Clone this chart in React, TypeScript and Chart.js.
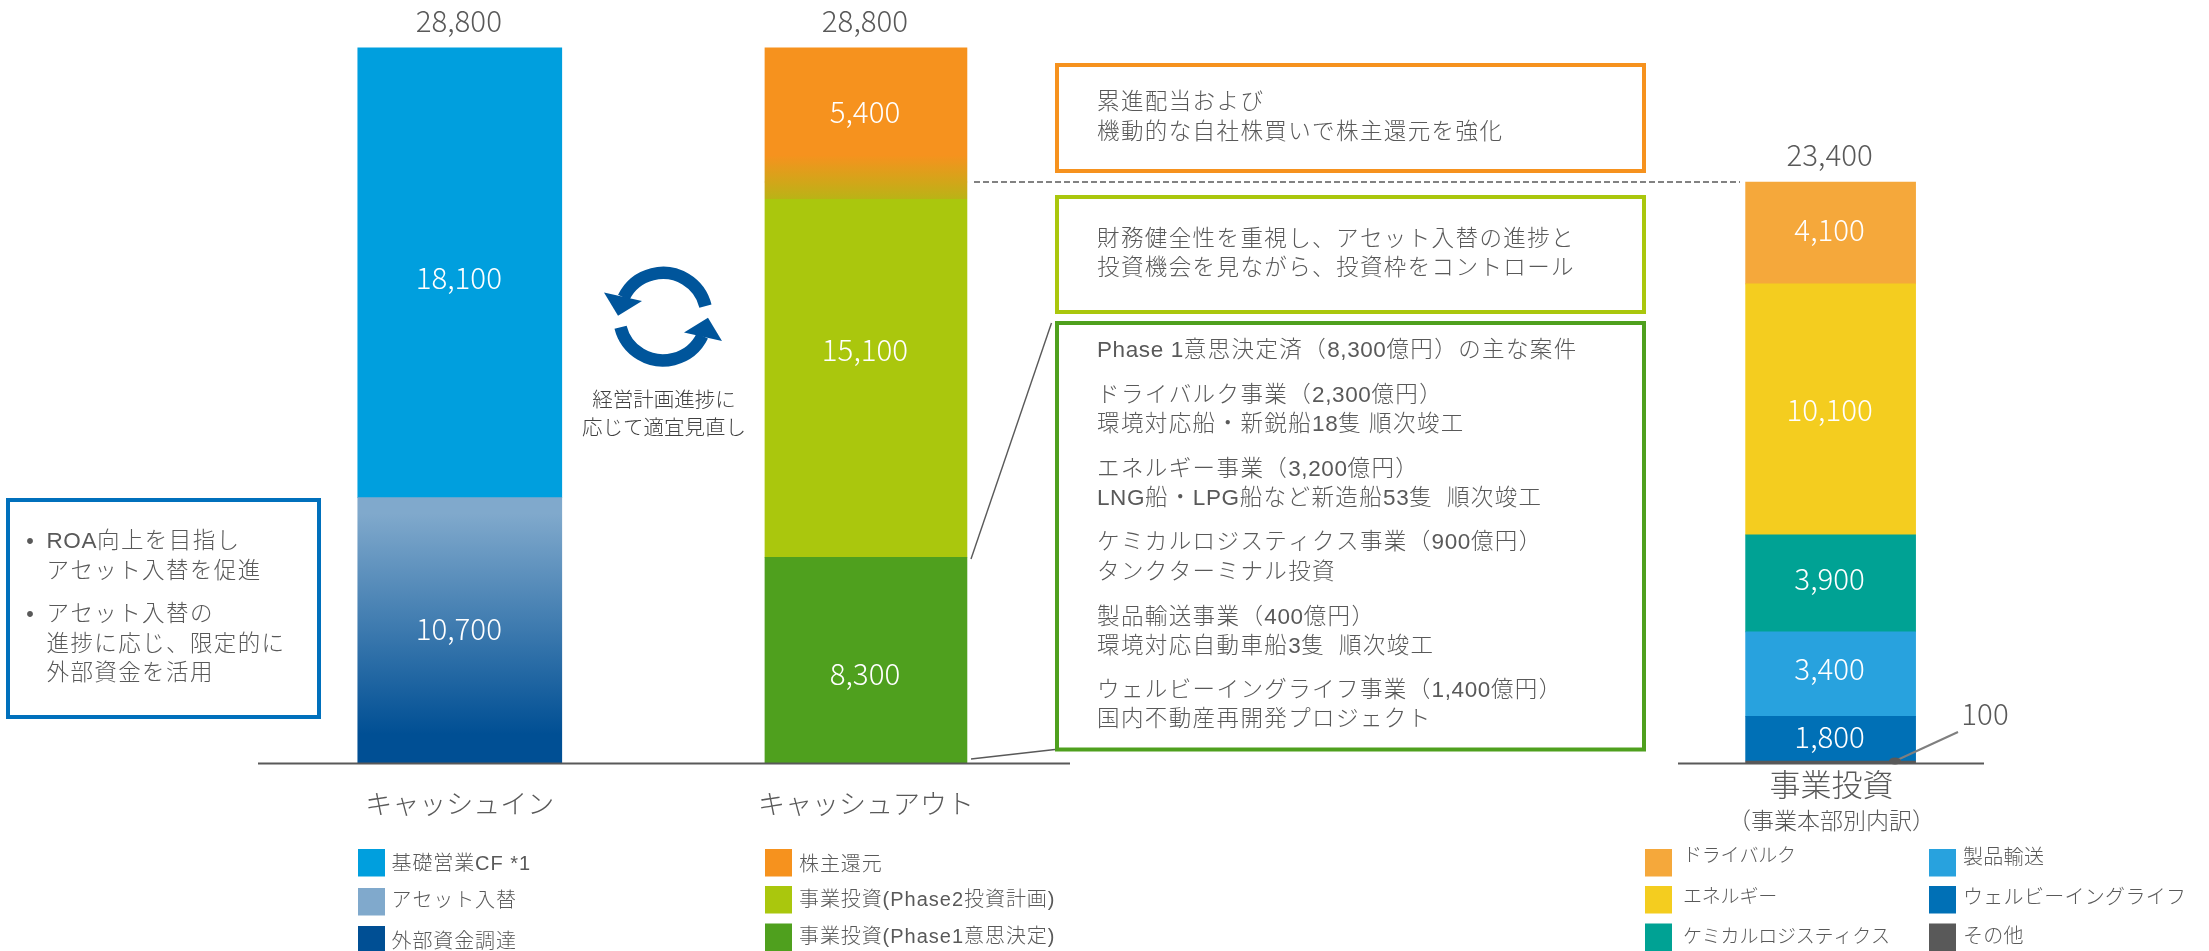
import React, { useEffect, useRef } from "react";
import { Chart, registerables } from "chart.js";

Chart.register(...registerables);

// Chart values, in 億円
const slotCount = 28;
const cashInSlot = 0;
const cashOutSlot = 8;
const businessSlot = 27;

const categoryIn = "キャッシュイン";
const categoryOut = "キャッシュアウト";
const categoryBusiness = "事業投資";
const categoryBusinessNote = "（事業本部別内訳）";

const cashInValues = [10700, 18100];
const cashOutValues = [8300, 15100, 5400];
const businessValues = [100, 1800, 3400, 3900, 10100, 4100];

const cashInLegend = ["基礎営業CF *1", "アセット入替", "外部資金調達"];
const cashOutLegend = ["株主還元", "事業投資(Phase2投資計画)", "事業投資(Phase1意思決定)"];
const businessLegendLeft = ["ドライバルク", "エネルギー", "ケミカルロジスティクス"];
const businessLegendRight = ["製品輸送", "ウェルビーイングライフ", "その他"];

const shareholderNote = ["累進配当および", "機動的な自社株買いで株主還元を強化"];
const controlNote = ["財務健全性を重視し、アセット入替の進捗と", "投資機会を見ながら、投資枠をコントロール"];
const phaseOneNote = [
  "Phase 1意思決定済（8,300億円）の主な案件",
  "ドライバルク事業（2,300億円）",
  "環境対応船・新鋭船18隻 順次竣工",
  "エネルギー事業（3,200億円）",
  "LNG船・LPG船など新造船53隻  順次竣工",
  "ケミカルロジスティクス事業（900億円）",
  "タンクターミナル投資",
  "製品輸送事業（400億円）",
  "環境対応自動車船3隻  順次竣工",
  "ウェルビーイングライフ事業（1,400億円）",
  "国内不動産再開発プロジェクト",
];
const assetNote = ["ROA向上を目指し", "アセット入替を促進", "アセット入替の", "進捗に応じ、限定的に", "外部資金を活用"];
const cycleNote = ["経営計画進捗に", "応じて適宜見直し"];

const FONT = '"Liberation Sans", "Noto Sans CJK JP", sans-serif';
const NUM_FONT = '"Noto Sans CJK JP", sans-serif';
const GREY = "#595959";

const C = {
  cf: "#009FDE",
  asset: "#80A9CC",
  external: "#004F94",
  orange: "#F6921E",
  lime: "#AAC70D",
  green: "#4FA01E",
  bulk: "#F5A83B",
  energy: "#F4CD1F",
  chem: "#00A294",
  product: "#28A2DE",
  wellbeing: "#0070B6",
  other: "#595959",
  blend: "#BAB316",
  blendMid: "#D2A619",
};

const labels = Array.from({ length: slotCount }, (_, i) =>
  i === cashInSlot ? categoryIn : i === cashOutSlot ? categoryOut : i === businessSlot ? categoryBusiness : ""
);

const at = (slot: number, v: number) => {
  const row: (number | null)[] = new Array(slotCount).fill(null);
  row[slot] = v;
  return row;
};

type Opts = {
  size?: number;
  color?: string;
  align?: CanvasTextAlign;
  spacing?: number;
  latinSpacing?: number;
  weight?: number;
  family?: string;
};

// Draws one line of text; Latin runs and Japanese runs take separate tracking
function put(ctx: CanvasRenderingContext2D, s: string, x: number, y: number, o: Opts = {}) {
  ctx.save();
  ctx.font = `${o.weight ?? 300} ${o.size ?? 22}px ${o.family ?? FONT}`;
  ctx.fillStyle = o.color ?? GREY;
  ctx.textAlign = o.align ?? "left";
  ctx.textBaseline = "middle";
  if ((o.align ?? "left") === "left") {
    let cx = x;
    for (const run of s.match(/[\x20-\x7e]+|[^\x20-\x7e]+/g) ?? []) {
      const latin = /^[\x20-\x7e]/.test(run);
      (ctx as any).letterSpacing = `${latin ? o.latinSpacing ?? 0 : o.spacing ?? 0}px`;
      ctx.fillText(run, cx, y);
      cx += ctx.measureText(run).width;
    }
  } else {
    (ctx as any).letterSpacing = `${o.spacing ?? 0}px`;
    ctx.fillText(s, x, y);
  }
  ctx.restore();
}

function frame(ctx: CanvasRenderingContext2D, x0: number, y0: number, x1: number, y1: number, color: string) {
  ctx.save();
  ctx.strokeStyle = color;
  ctx.lineWidth = 4;
  ctx.strokeRect(x0, y0, x1 - x0, y1 - y0);
  ctx.restore();
}

function seg(ctx: CanvasRenderingContext2D, x0: number, y0: number, x1: number, y1: number, color: string, w: number, dash: number[] = []) {
  ctx.save();
  ctx.strokeStyle = color;
  ctx.lineWidth = w;
  ctx.setLineDash(dash);
  ctx.beginPath();
  ctx.moveTo(x0, y0);
  ctx.lineTo(x1, y1);
  ctx.stroke();
  ctx.restore();
}

// Two chasing arrows between the first two columns
function cycleIcon(ctx: CanvasRenderingContext2D, cx: number, cy: number) {
  const half = () => {
    ctx.strokeStyle = "#00559B";
    ctx.fillStyle = "#00559B";
    ctx.lineWidth = 12.5;
    ctx.beginPath();
    ctx.arc(0, 0, 43.75, (-14 * Math.PI) / 180, (-154 * Math.PI) / 180, true);
    ctx.stroke();
    ctx.beginPath();
    ctx.moveTo(-59, -24.3);
    ctx.lineTo(-21, -15.7);
    ctx.lineTo(-45, -1);
    ctx.closePath();
    ctx.fill();
  };
  ctx.save();
  ctx.translate(cx, cy);
  half();
  ctx.rotate(Math.PI);
  half();
  ctx.restore();
}

function legendGroup(
  ctx: CanvasRenderingContext2D,
  items: string[],
  colors: string[],
  x: number,
  swatchTops: number[],
  textX: number,
  textYs: number[],
  textOpts: Opts
) {
  items.forEach((t, i) => {
    ctx.fillStyle = colors[i];
    ctx.fillRect(x, swatchTops[i], 27, 27.5);
    put(ctx, t, textX, textYs[i], textOpts);
  });
}

const annotations = {
  id: "annotations",
  afterDraw(chart: any) {
    const ctx: CanvasRenderingContext2D = chart.ctx;
    const y = chart.scales.y;
    const x = chart.scales.x;
    const base = y.getPixelForValue(0);

    // Baselines under each group of columns
    seg(ctx, 258, base, 1070, base, GREY, 2);
    seg(ctx, 1678, base, 1984, base, GREY, 2);

    // Segment values, drawn at the middle of every bar
    chart.data.datasets.forEach((ds: any, i: number) => {
      if (ds.hideValue) return;
      chart.getDatasetMeta(i).data.forEach((el: any, k: number) => {
        const v = ds.data[k];
        if (v == null) return;
        put(ctx, v.toLocaleString("en-US"), el.x - 1, (el.y + el.base) / 2 + (ds.labelShift ?? 0), {
          size: 29.5,
          color: "#FFFFFF",
          align: "center",
          family: NUM_FONT,
        });
      });
    });

    // Column totals
    const sum = (a: number[]) => a.reduce((p, c) => p + c, 0);
    [
      [cashInSlot, sum(cashInValues)],
      [cashOutSlot, sum(cashOutValues)],
      [businessSlot, sum(businessValues)],
    ].forEach(([slot, total]) => {
      put(ctx, total.toLocaleString("en-US"), x.getPixelForValue(slot) - 1, y.getPixelForValue(total) - 27.5, {
        size: 29.5,
        align: "center",
        family: NUM_FONT,
      });
    });

    // Callout for the sliver at the bottom of the business column
    seg(ctx, 1958, 732, 1895, 761, "#7F7F7F", 2);
    ctx.fillStyle = GREY;
    ctx.beginPath();
    ctx.ellipse(1895, 761, 6, 3.5, 0, 0, Math.PI * 2);
    ctx.fill();
    put(ctx, businessValues[0].toLocaleString("en-US"), 1985, 714, { size: 29.5, align: "center", family: NUM_FONT });

    // Links between the columns and the text boxes
    seg(ctx, 974, 182, 1740, 182, GREY, 1.6, [6, 3]);
    seg(ctx, 971, 559, 1051.5, 323, GREY, 1.4);
    seg(ctx, 971, 759, 1055, 749.5, GREY, 1.4);

    // Text boxes
    const textOpts: Opts = { size: 22.5, spacing: 1.4, latinSpacing: 0.6 };
    frame(ctx, 1057, 65, 1644, 171, C.orange);
    shareholderNote.forEach((t, i) => put(ctx, t, 1097, [103, 132.5][i], textOpts));
    frame(ctx, 1057, 197, 1644, 312, C.lime);
    controlNote.forEach((t, i) => put(ctx, t, 1097, [240, 269][i], textOpts));
    frame(ctx, 1057, 323, 1644, 749.5, C.green);
    const phaseY = [351, 396, 425, 470, 498.5, 543, 572.6, 617.6, 647, 690.6, 720];
    phaseOneNote.forEach((t, i) => put(ctx, t, 1097, phaseY[i], textOpts));

    frame(ctx, 8, 500, 319, 717, "#0070BC");
    const assetY = [542, 571.5, 615, 645, 673.5];
    assetNote.forEach((t, i) => put(ctx, t, 46.5, assetY[i], textOpts));
    put(ctx, "•", 30, 542, { size: 21.5, align: "center" });
    put(ctx, "•", 30, 615, { size: 21.5, align: "center" });

    cycleIcon(ctx, 663, 316.7);
    cycleNote.forEach((t, i) => put(ctx, t, 664, [401, 429][i], { size: 20.5, align: "center", color: "#404040" }));

    // Heading of the business column, set closer to the baseline than the axis labels
    const bx = x.getPixelForValue(businessSlot) + 1;
    put(ctx, categoryBusiness, bx, 787, { size: 31, align: "center" });
    put(ctx, categoryBusinessNote, bx, 823, { size: 23, align: "center" });

    // Legends
    const tops = [849, 886, 923.5];
    const legendText: Opts = { size: 20, spacing: 0.9, latinSpacing: 1 };
    legendGroup(ctx, cashInLegend, [C.cf, C.asset, C.external], 358, [849, 888, 926], 391.5, [864, 901, 942], legendText);
    legendGroup(ctx, cashOutLegend, [C.orange, C.lime, C.green], 765, tops, 799, [865, 900, 937], legendText);
    legendGroup(ctx, businessLegendLeft, [C.bulk, C.energy, C.chem], 1645, tops, 1683, [857, 898, 938], { size: 19, spacing: -0.2 });
    legendGroup(ctx, businessLegendRight, [C.product, C.wellbeing, C.other], 1929, tops, 1963, [858, 898, 937], { size: 20, spacing: 0.3 });
  },
};

// Vertical gradient helper bound to a segment's value range
function ramp(lo: number, hi: number, stops: [number, string][], fallback: string) {
  return (c: any) => {
    const { chart } = c;
    if (!chart.chartArea) return fallback;
    const y = chart.scales.y;
    const g = chart.ctx.createLinearGradient(0, y.getPixelForValue(hi), 0, y.getPixelForValue(lo));
    stops.forEach(([p, col]) => g.addColorStop(p, col));
    return g;
  };
}

export default function App() {
  const ref = useRef<HTMLCanvasElement>(null);

  useEffect(() => {
    if (!ref.current) return;
    const inTotalLow = cashInValues[0];
    const outLow = cashOutValues[0];
    const outMid = outLow + cashOutValues[1];
    const outTop = outMid + cashOutValues[2];

    const chart = new Chart(ref.current, {
      type: "bar",
      data: {
        labels,
        datasets: [
          {
            label: "アセット入替・外部資金調達",
            data: at(cashInSlot, cashInValues[0]),
            backgroundColor: ramp(0, inTotalLow, [[0.06, C.asset], [0.89, C.external], [1, C.external]], C.asset),
            barThickness: 204,
            labelShift: -2,
          },
          {
            label: "基礎営業CF",
            data: at(cashInSlot, cashInValues[1]),
            backgroundColor: C.cf,
            barThickness: 204,
            labelShift: 5,
          },
          {
            label: "事業投資(Phase1意思決定)",
            data: at(cashOutSlot, cashOutValues[0]),
            backgroundColor: C.green,
            barThickness: 202,
            labelShift: 13,
          },
          {
            label: "事業投資(Phase2投資計画)",
            data: at(cashOutSlot, cashOutValues[1]),
            backgroundColor: ramp(outLow, outMid, [[0, C.blendMid], [0.045, C.blend], [0.045, C.lime], [1, C.lime]], C.lime),
            barThickness: 202,
            labelShift: -20,
          },
          {
            label: "株主還元",
            data: at(cashOutSlot, cashOutValues[2]),
            backgroundColor: ramp(outMid, outTop, [[0, C.orange], [0.8, C.orange], [1, C.blendMid]], C.orange),
            barThickness: 202,
            labelShift: -3,
          },
          { label: "その他", data: at(businessSlot, businessValues[0]), backgroundColor: C.other, barThickness: 170, hideValue: true },
          { label: "ウェルビーイングライフ", data: at(businessSlot, businessValues[1]), backgroundColor: C.wellbeing, barThickness: 170, labelShift: -2 },
          { label: "製品輸送", data: at(businessSlot, businessValues[2]), backgroundColor: C.product, barThickness: 170, labelShift: -5 },
          { label: "ケミカルロジスティクス", data: at(businessSlot, businessValues[3]), backgroundColor: C.chem, barThickness: 170, labelShift: -5 },
          { label: "エネルギー", data: at(businessSlot, businessValues[4]), backgroundColor: C.energy, barThickness: 170 },
          { label: "ドライバルク", data: at(businessSlot, businessValues[5]), backgroundColor: C.bulk, barThickness: 170, labelShift: -3 },
        ].map((d) => ({ ...d, clip: false })) as any,
      },
      options: {
        animation: false,
        responsive: false,
        layout: { padding: { left: 434.4, right: 353, top: 18, bottom: 0 } },
        plugins: { legend: { display: false }, tooltip: { enabled: false } },
        scales: {
          x: {
            stacked: true,
            grid: { display: false, drawTicks: false },
            border: { display: false },
            afterFit(s: any) {
              s.height = 187.5;
            },
            ticks: {
              autoSkip: false,
              maxRotation: 0,
              padding: 27,
              color: GREY,
              font: { family: FONT, size: 27, weight: "300" },
              callback(_v: any, i: number) {
                return i === businessSlot ? "" : labels[i];
              },
            },
          },
          y: { stacked: true, display: false, min: 0, max: 30000 },
        },
      },
      plugins: [annotations],
    } as any);

    return () => chart.destroy();
  }, []);

  return (
    <canvas
      ref={ref}
      width={2209}
      height={951}
      style={{ position: "absolute", left: 0, top: 0, display: "block" }}
    />
  );
}
